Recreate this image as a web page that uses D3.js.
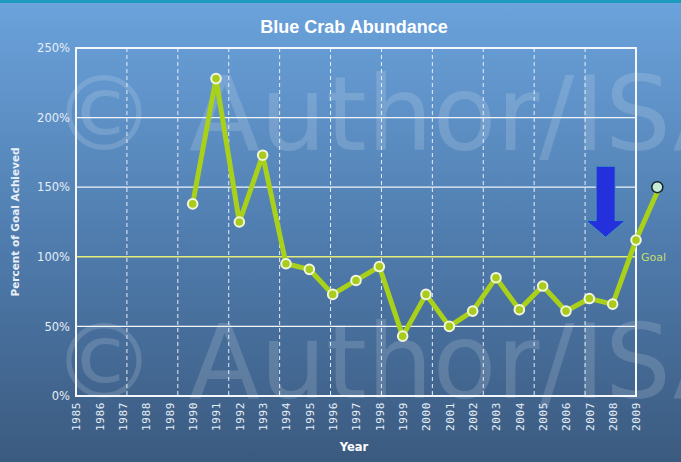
<!DOCTYPE html>
<html>
<head>
<meta charset="utf-8">
<script src="https://cdn.jsdelivr.net/npm/d3@7"></script>
<style>
  body { margin: 0; background: #4d76a5; }
  svg { display: block; }
</style>
</head>
<body>
<svg id="chart" width="681" height="462"></svg>
<script>
// data (percent of goal achieved)
const years = [1990, 1991, 1992, 1993, 1994, 1995, 1996, 1997, 1998, 1999,
               2000, 2001, 2002, 2003, 2004, 2005, 2006, 2007, 2008, 2009];
const percent = [138, 228, 125, 173, 95, 91, 73, 83, 93, 43,
                 73, 50, 61, 85, 62, 79, 61, 70, 66, 112];
// the newest estimate sits outside the plot frame
const latestYear = 2010;
const latestPercent = 150;
const goal = 100;
const yearTicks = d3.range(1985, 2010);
const percentTicks = [0, 50, 100, 150, 200, 250];

const svg = d3.select("#chart");
const width = +svg.attr("width");
const height = +svg.attr("height");
const margin = { top: 48, right: 45, bottom: 66, left: 76 };
const w = width - margin.left - margin.right;
const h = height - margin.top - margin.bottom;

const defs = svg.append("defs");
const grad = defs.append("linearGradient")
    .attr("id", "bg").attr("x1", 0).attr("y1", 0).attr("x2", 0).attr("y2", 1);
grad.append("stop").attr("offset", "0%").attr("stop-color", "#6ba3dc");
grad.append("stop").attr("offset", "55%").attr("stop-color", "#4e7aab");
grad.append("stop").attr("offset", "100%").attr("stop-color", "#3b5a7f");

svg.append("rect").attr("width", width).attr("height", height).attr("fill", "url(#bg)");
svg.append("rect").attr("width", width).attr("height", 3).attr("fill", "#1d9bbf");

// watermark
const wm = svg.append("g")
    .attr("fill", "#ffffff")
    .attr("fill-opacity", 0.15)
    .attr("font-family", "DejaVu Sans, sans-serif")
    .attr("font-size", 104);
wm.append("text").attr("x", 52).attr("y", 150).text("© Author/ISA");
wm.append("text").attr("x", 52).attr("y", 398).text("© Author/ISA");

const x = d3.scaleLinear().domain([1985, 2009]).range([0, w]);
const y = d3.scaleLinear().domain([0, 250]).range([h, 0]);

const g = svg.append("g").attr("transform", `translate(${margin.left},${margin.top})`);

// vertical dashed grid (11 columns, independent of the year labels)
const cols = d3.range(1, 11).map(i => i * w / 11);
g.append("g").selectAll("line").data(cols).join("line")
    .attr("x1", d => d).attr("x2", d => d)
    .attr("y1", 0).attr("y2", h)
    .attr("stroke", "#e8eef6")
    .attr("stroke-width", 1)
    .attr("stroke-dasharray", "4,3");

// horizontal grid
g.append("g").selectAll("line").data(percentTicks.filter(d => d > 0 && d < 250 && d !== goal)).join("line")
    .attr("x1", 0).attr("x2", w)
    .attr("y1", d => y(d)).attr("y2", d => y(d))
    .attr("stroke", "#f2f6fb")
    .attr("stroke-width", 1.2);

// goal line
g.append("line")
    .attr("x1", 0).attr("x2", w)
    .attr("y1", y(goal)).attr("y2", y(goal))
    .attr("stroke", "#e6ec7a")
    .attr("stroke-width", 1.5);

// frame
g.append("rect")
    .attr("width", w).attr("height", h)
    .attr("fill", "none")
    .attr("stroke", "#f4f8fc")
    .attr("stroke-width", 2);

// y axis labels
const yAxis = d3.axisLeft(y).tickValues(percentTicks).tickSize(0).tickPadding(6)
    .tickFormat(d => d + "%");
g.append("g").call(yAxis)
    .call(s => s.select(".domain").remove())
    .selectAll("text")
    .attr("fill", "#e6eef7")
    .attr("font-family", "DejaVu Sans, sans-serif")
    .attr("font-size", 11.5);

// x axis labels (rotated)
const xAxis = d3.axisBottom(x).tickValues(yearTicks).tickSize(0).tickFormat(d3.format("d"));
g.append("g").attr("transform", `translate(0,${h})`).call(xAxis)
    .call(s => s.select(".domain").remove())
    .selectAll("text")
    .attr("fill", "#e6eef7")
    .attr("font-family", "DejaVu Sans Mono, monospace")
    .attr("font-size", 11)
    .attr("letter-spacing", 0.6)
    .attr("transform", "rotate(-90)")
    .attr("text-anchor", "end")
    .attr("x", -6)
    .attr("y", 0)
    .attr("dy", "0.35em");

// goal label
g.append("text")
    .attr("x", w + 5).attr("y", y(goal))
    .attr("dy", "0.35em")
    .attr("fill", "#c4dc6e")
    .attr("font-family", "DejaVu Sans, sans-serif")
    .attr("font-size", 11)
    .text("Goal");

// series line
const pts = years.map((yr, i) => ({ yr, v: percent[i] }));
const all = pts.concat([{ yr: latestYear, v: latestPercent }]);
const line = d3.line().x(d => x(d.yr)).y(d => y(d.v));
g.append("path")
    .datum(all)
    .attr("d", line)
    .attr("fill", "none")
    .attr("stroke", "#a9d11a")
    .attr("stroke-width", 5)
    .attr("stroke-linejoin", "round");

g.append("g").selectAll("circle").data(pts).join("circle")
    .attr("cx", d => x(d.yr)).attr("cy", d => y(d.v))
    .attr("r", 4.8)
    .attr("fill", "#a9cc1c")
    .attr("stroke", "#f2f5df")
    .attr("stroke-width", 2);

g.append("circle")
    .attr("cx", x(latestYear) - 2).attr("cy", y(latestPercent))
    .attr("r", 5.5)
    .attr("fill", "#c6ecd8")
    .attr("stroke", "#16232e")
    .attr("stroke-width", 1.5);

// arrow pointing down at the latest years
const ax = x(2008) - 7;
const arrow = d3.path();
arrow.moveTo(ax - 9.5, y(165));
arrow.lineTo(ax + 9.5, y(165));
arrow.lineTo(ax + 9.5, y(126));
arrow.lineTo(ax + 19.5, y(126));
arrow.lineTo(ax, y(114));
arrow.lineTo(ax - 19.5, y(126));
arrow.lineTo(ax - 9.5, y(126));
arrow.closePath();
g.append("path")
    .attr("d", arrow.toString())
    .attr("fill", "#2430dc")
    .attr("stroke", "#3fa0b8")
    .attr("stroke-width", 0.8);

// titles
svg.append("text")
    .attr("x", 354).attr("y", 33)
    .attr("text-anchor", "middle")
    .attr("fill", "#ffffff")
    .attr("font-family", "Liberation Sans, Arial, sans-serif")
    .attr("font-weight", "bold")
    .attr("font-size", 18)
    .text("Blue Crab Abundance");

svg.append("text")
    .attr("transform", `translate(19,${margin.top + h / 2}) rotate(-90)`)
    .attr("text-anchor", "middle")
    .attr("fill", "#e8eff7")
    .attr("font-family", "DejaVu Sans, sans-serif")
    .attr("font-weight", "bold")
    .attr("font-size", 10.5)
    .text("Percent of Goal Achieved");

svg.append("text")
    .attr("x", 354).attr("y", 451)
    .attr("text-anchor", "middle")
    .attr("fill", "#ffffff")
    .attr("font-family", "DejaVu Sans, sans-serif")
    .attr("font-weight", "bold")
    .attr("font-size", 11.5)
    .text("Year");
</script>
</body>
</html>
